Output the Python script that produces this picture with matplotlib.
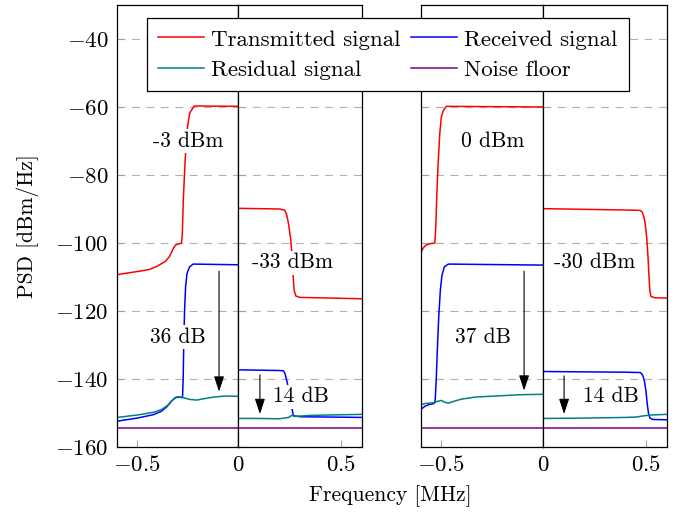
import matplotlib
matplotlib.use("Agg")
import matplotlib.pyplot as plt
from matplotlib.lines import Line2D

plt.rcParams['font.family'] = 'cmr10'
plt.rcParams['mathtext.fontset'] = 'cm'
plt.rcParams['axes.formatter.use_mathtext'] = True
plt.rcParams['font.size'] = 15.5

RED = '#ff0000'
BLUE = '#0000ff'
TEAL = '#008080'
PURPLE = '#800080'

# ---- case A (-3 dBm / -33 dBm), negative frequencies ----
tx_a_l_f = [-0.6, -0.5, -0.44, -0.4, -0.36, -0.34, -0.33, -0.32, -0.31, -0.29, -0.28, -0.276,
            -0.271, -0.262, -0.25, -0.239, -0.217, 0.0]
tx_a_l = [-109.3, -108.4, -107.8, -106.8, -105.4, -104.0, -102.8, -101.5, -100.6, -100.2, -100.0, -97.0,
          -87.0, -75.4, -65.6, -61.7, -59.7, -59.8]
rx_a_l_f = [-0.6, -0.5, -0.42, -0.38, -0.35, -0.33, -0.31, -0.29, -0.278, -0.275, -0.272, -0.269,
            -0.265, -0.26, -0.253, -0.24, -0.222, 0.0]
rx_a_l = [-152.4, -151.5, -150.5, -149.5, -148.0, -146.5, -145.5, -145.3, -145.5, -145.2, -140.0, -130.0,
          -120.0, -113.0, -109.0, -107.0, -106.2, -106.4]
res_a_l_f = [-0.6, -0.5, -0.42, -0.38, -0.35, -0.33, -0.31, -0.295, -0.27, -0.24, -0.205, -0.17, -0.12, -0.06, 0.0]
res_a_l = [-151.3, -150.6, -149.8, -149.0, -147.8, -146.5, -145.4, -145.2, -145.5, -146.0, -146.2, -145.8,
           -145.3, -145.0, -145.1]

# ---- case A, positive frequencies ----
tx_a_r_f = [0.0, 0.2, 0.225, 0.235, 0.245, 0.255, 0.262, 0.267, 0.272, 0.28, 0.3, 0.6]
tx_a_r = [-89.8, -90.0, -90.3, -91.5, -94.5, -99.0, -104.0, -110.0, -114.0, -115.6, -116.0, -116.4]
rx_a_r_f = [0.0, 0.2, 0.22, 0.228, 0.236, 0.245, 0.254, 0.262, 0.268, 0.3, 0.6]
rx_a_r = [-137.3, -137.5, -137.6, -138.5, -140.5, -143.0, -146.5, -149.0, -150.8, -151.1, -151.3]
res_a_r_f = [0.0, 0.1, 0.2, 0.245, 0.26, 0.275, 0.35, 0.6]
res_a_r = [-151.6, -151.6, -151.7, -151.3, -150.7, -151.0, -150.7, -150.4]

# ---- case B (0 dBm / -30 dBm), negative frequencies ----
tx_b_l_f = [-0.6, -0.59, -0.575, -0.555, -0.532, -0.527, -0.523, -0.516, -0.508, -0.5, -0.49, -0.475, 0.0]
tx_b_l = [-102.9, -101.5, -100.6, -100.2, -100.0, -95.0, -87.0, -77.0, -68.0, -63.0, -61.0, -59.8, -60.0]
rx_b_l_f = [-0.6, -0.58, -0.56, -0.54, -0.532, -0.53, -0.525, -0.52, -0.513, -0.505, -0.497, -0.485, -0.465, 0.0]
rx_b_l = [-148.9, -148.0, -147.5, -147.3, -147.0, -146.0, -140.0, -132.0, -122.0, -114.0, -109.5, -107.0,
          -106.2, -106.5]
res_b_l_f = [-0.6, -0.58, -0.54, -0.52, -0.5, -0.485, -0.466, -0.44, -0.4, -0.33, -0.2, -0.1, 0.0]
res_b_l = [-147.6, -147.2, -147.0, -146.6, -146.3, -146.8, -147.1, -146.6, -145.9, -145.3, -144.9, -144.6, -144.5]

# ---- case B, positive frequencies ----
tx_b_r_f = [0.0, 0.2, 0.4, 0.47, 0.48, 0.488, 0.495, 0.502, 0.508, 0.513, 0.517, 0.522, 0.54, 0.6]
tx_b_r = [-89.9, -90.1, -90.3, -90.4, -90.9, -92.3, -94.5, -98.5, -104.0, -110.0, -114.0, -115.7, -116.1, -116.2]
rx_b_r_f = [0.0, 0.2, 0.4, 0.47, 0.477, 0.485, 0.492, 0.498, 0.505, 0.511, 0.518, 0.53, 0.6]
rx_b_r = [-137.8, -137.9, -138.0, -138.1, -138.4, -139.3, -141.0, -143.5, -147.6, -150.3, -151.5, -151.9, -152.0]
res_b_r_f = [0.0, 0.2, 0.4, 0.45, 0.48, 0.52, 0.6]
res_b_r = [-151.6, -151.5, -151.3, -151.2, -150.9, -150.6, -150.4]

noise_l_f = [-0.6, 0.0]
noise_r_f = [0.0, 0.6]
noise_level = [-154.5, -154.5]

# annotations: (text, f, level)
labels_a_l = [('-3 dBm', -0.248, -70.1), ('36 dB', -0.297, -127.6)]
labels_a_r = [('-33 dBm', 0.266, -105.8), ('14 dB', 0.305, -145.2)]
labels_b_l = [('0 dBm', -0.246, -70.1), ('37 dB', -0.295, -127.6)]
labels_b_r = [('-30 dBm', 0.252, -105.8), ('14 dB', 0.327, -145.2)]
# arrows: (f, start, end)
arrow_a_l = (-0.094, -108.3, -143.7)
arrow_a_r = (0.106, -138.8, -150.3)
arrow_b_l = (-0.093, -108.3, -143.4)
arrow_b_r = (0.102, -139.1, -150.3)

W, H = 686, 514
fig = plt.figure(figsize=(W / 100, H / 100), dpi=100)
bot = 1 - 447 / H
hgt = (447 - 5) / H
boxes = [(117, 121), (238, 124), (421, 122), (543, 124)]
axes = [fig.add_axes([x0 / W, bot, w / W, hgt]) for x0, w in boxes]

panels = [
    (tx_a_l_f, tx_a_l, rx_a_l_f, rx_a_l, res_a_l_f, res_a_l, noise_l_f, labels_a_l, arrow_a_l),
    (tx_a_r_f, tx_a_r, rx_a_r_f, rx_a_r, res_a_r_f, res_a_r, noise_r_f, labels_a_r, arrow_a_r),
    (tx_b_l_f, tx_b_l, rx_b_l_f, rx_b_l, res_b_l_f, res_b_l, noise_l_f, labels_b_l, arrow_b_l),
    (tx_b_r_f, tx_b_r, rx_b_r_f, rx_b_r, res_b_r_f, res_b_r, noise_r_f, labels_b_r, arrow_b_r),
]

for i, (ax, p) in enumerate(zip(axes, panels)):
    txf, tx, rxf, rx, resf, res, nf, labs, arr = p
    ax.plot(txf, tx, color=RED, lw=1.1)
    ax.plot(rxf, rx, color=BLUE, lw=1.1)
    ax.plot(resf, res, color=TEAL, lw=1.1)
    ax.plot(nf, noise_level, color=PURPLE, lw=1.1)
    for txt, fx, lv in labs:
        ax.text(fx, lv, txt, ha='center', va='center', zorder=4, fontsize=15.5,
                bbox=dict(facecolor='white', edgecolor='none', pad=1.5))
    ax.annotate('', xy=(arr[0], arr[2]), xytext=(arr[0], arr[1]), zorder=5,
                arrowprops=dict(arrowstyle='-|>,head_length=0.6,head_width=0.2', color='black', lw=0.8,
                                shrinkA=0, shrinkB=0))
    ax.set_ylim(-160, -30)
    ax.set_yticks([-160, -140, -120, -100, -80, -60, -40])
    ax.yaxis.grid(True, color='#b0b0b0', lw=0.8, dashes=(7, 6))
    ax.set_axisbelow(True)
    ax.tick_params(direction='in', color='#a0a0a0', length=5, width=0.8, pad=6, labelsize=16.5)
    for s in ax.spines.values():
        s.set_linewidth(0.9)
    if i % 2 == 0:
        ax.set_xlim(-0.6, 0)
        ax.set_xticks([-0.5, 0])
        ax.set_xticklabels([r'$-0.5$', r'$0$'])
    else:
        ax.set_xlim(0, 0.6)
        ax.set_xticks([0, 0.5])
        ax.set_xticklabels(['', r'$0.5$'])
    if i != 0:
        ax.tick_params(labelleft=False)

fig.text(28 / W, 1 - 226 / H, 'PSD [dBm/Hz]', rotation=90, ha='center', va='center', fontsize=15.5)
fig.text(390 / W, 1 - 496 / H, 'Frequency [MHz]', ha='center', va='center', fontsize=15.5)

handles = [Line2D([], [], color=RED, lw=1.1), Line2D([], [], color=TEAL, lw=1.1),
           Line2D([], [], color=BLUE, lw=1.1), Line2D([], [], color=PURPLE, lw=1.1)]
names = ['Transmitted signal', 'Residual signal', 'Received signal', 'Noise floor']
leg = fig.legend(handles, names, ncol=2, loc='upper left', bbox_to_anchor=(147 / W, 1 - 18 / H),
                 fancybox=False, framealpha=1, edgecolor='black', borderaxespad=0, fontsize=16.5,
                 handlelength=2.0, columnspacing=0.45, handletextpad=0.3, labelspacing=0.45,
                 borderpad=0.5)
leg.get_frame().set_linewidth(0.9)

fig.savefig('out.png', dpi=100)
